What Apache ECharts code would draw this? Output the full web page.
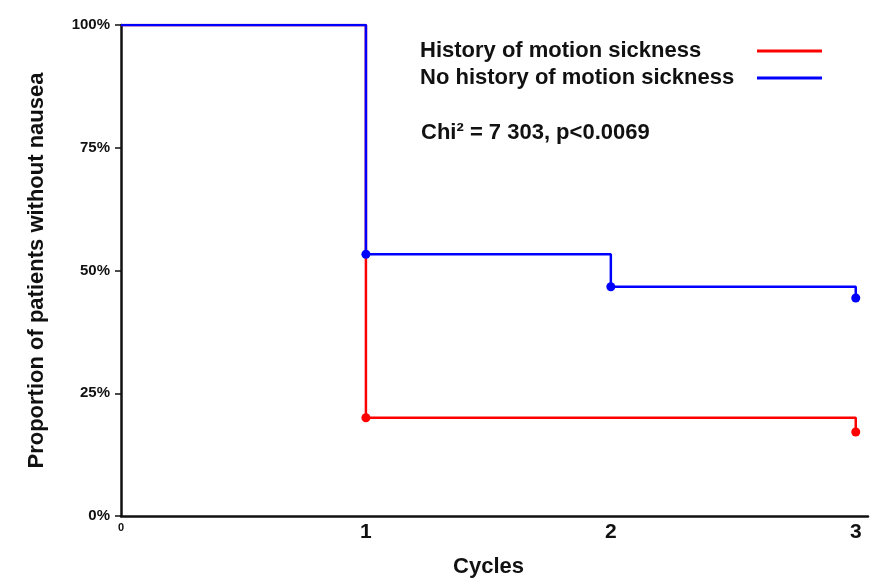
<!DOCTYPE html>
<html>
<head>
<meta charset="utf-8">
<script src="https://cdn.jsdelivr.net/npm/echarts@6/dist/echarts.min.js"></script>
<style>
  html, body { margin: 0; padding: 0; background: #fff; }
  #chart { width: 870px; height: 579px; }
</style>
</head>
<body>
<div id="chart"></div>
<script>
// cycles and survival proportions (%)
var historyCycles = [0, 1, 3, 3];
var historyValues = [100, 20, 20, 17.1];
var noHistoryCycles = [0, 1, 2, 3, 3];
var noHistoryValues = [100, 53.3, 46.7, 46.7, 44.4];
var yTicks = [0, 25, 50, 75, 100];

var font = 'Liberation Sans, Arial, sans-serif';

function stepData(xs, ys) {
    var out = [];
    for (var i = 0; i < xs.length; i++) {
        var item = { value: [xs[i], ys[i]] };
        // no dot at the start, nor on the horizontal corner before the final drop
        if (i === 0 || (i < xs.length - 1 && xs[i + 1] === xs[i])) {
            item.symbol = 'none';
        }
        out.push(item);
    }
    return out;
}

var myChart = echarts.init(document.getElementById('chart'));

var option = {
    animation: false,
    grid: { left: 121, right: 2, top: 25, bottom: 63, outerBoundsMode: 'none', containLabel: false },
    legend: {
        left: 415,
        top: 35,
        orient: 'vertical',
        align: 'right',
        itemGap: 5,
        itemWidth: 65,
        itemHeight: 3,
        icon: 'rect',
        formatter: '{t|{name}}',
        textStyle: {
            rich: {
                t: {
                    fontFamily: font,
                    fontSize: 22,
                    fontWeight: 'bold',
                    color: '#111',
                    width: 332,
                    align: 'left'
                }
            }
        },
        data: ['History of motion sickness', 'No history of motion sickness']
    },
    graphic: [{
        type: 'text',
        left: 421,
        top: 122,
        style: {
            text: 'Chi² = 7 303, p<0.0069',
            font: 'bold 22px ' + font,
            fill: '#111'
        }
    }],
    xAxis: {
        type: 'value',
        min: 0,
        max: 3.05,
        interval: 1,
        name: 'Cycles',
        nameLocation: 'middle',
        nameGap: 40,
        nameTextStyle: {
            fontFamily: font,
            fontSize: 22,
            fontWeight: 'bold',
            color: '#111',
            padding: [0, 12, 0, 0]
        },
        splitLine: { show: false },
        axisTick: { show: false },
        axisLine: { lineStyle: { color: '#111', width: 2.5 } },
        axisLabel: {
            margin: 6,
            showMaxLabel: false,
            formatter: function (v) {
                return v === 0 ? '{s|0}' : '{b|' + v + '}';
            },
            rich: {
                s: { fontFamily: font, fontSize: 11, fontWeight: 'bold', color: '#111' },
                b: { fontFamily: font, fontSize: 21, fontWeight: 'bold', color: '#111' }
            }
        }
    },
    yAxis: {
        type: 'value',
        min: yTicks[0],
        max: yTicks[yTicks.length - 1],
        interval: 25,
        name: 'Proportion of patients without nausea',
        nameLocation: 'middle',
        nameGap: 73,
        nameTextStyle: {
            fontFamily: font,
            fontSize: 22,
            fontWeight: 'bold',
            color: '#111'
        },
        splitLine: { show: false },
        axisLine: { show: true, lineStyle: { color: '#111', width: 2.5 } },
        axisTick: { show: true, length: 6, lineStyle: { color: '#111', width: 1.5 } },
        axisLabel: {
            margin: 11,
            fontFamily: font,
            fontSize: 15,
            fontWeight: 'bold',
            color: '#111',
            formatter: '{value}%'
        }
    },
    series: [{
        name: 'History of motion sickness',
        type: 'line',
        step: 'end',
        data: stepData(historyCycles, historyValues),
        symbol: 'circle',
        symbolSize: 9,
        lineStyle: { color: '#ff0000', width: 2.5 },
        itemStyle: { color: '#ff0000' }
    }, {
        name: 'No history of motion sickness',
        type: 'line',
        step: 'end',
        data: stepData(noHistoryCycles, noHistoryValues),
        symbol: 'circle',
        symbolSize: 9,
        lineStyle: { color: '#0000ff', width: 2.5 },
        itemStyle: { color: '#0000ff' }
    }]
};

myChart.setOption(option);
</script>
</body>
</html>
